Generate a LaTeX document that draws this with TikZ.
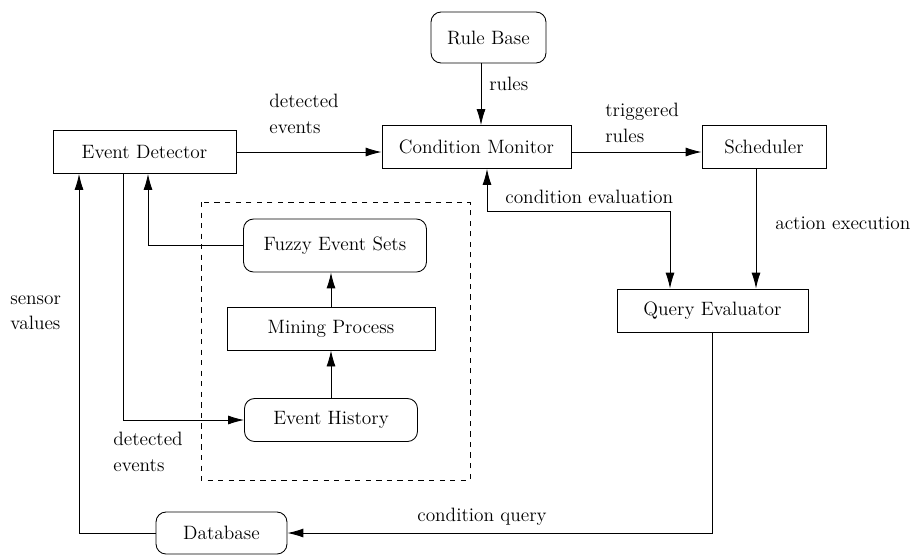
\documentclass[tikz,border=0pt]{standalone}
\usetikzlibrary{arrows.meta}
\tikzset{
    box/.style={draw, line width=0.5pt, inner sep=0pt, minimum height=0.86cm},
    roundbox/.style={box, rounded corners=0.2cm},
    lbl/.style={align=left, inner sep=0pt},
    flow/.style={line width=0.5pt, -{Latex[length=3.2mm,width=1.8mm]}},
    twoway/.style={line width=0.5pt, {Latex[length=3.2mm,width=1.8mm]}-{Latex[length=3.2mm,width=1.8mm]}},
}
\begin{document}
\begin{tikzpicture}[x=0.02cm, y=-0.02cm, font=\fontsize{11}{14.5}\selectfont]
        \useasboundingbox (0,0) rectangle (912,555);

        \node[roundbox, minimum width=2.3cm, minimum height=1.02cm] at (488.5,37.5) (rulebase) {Rule Base};
        \node[box, minimum width=3.66cm] at (144.5,152) (detector) {Event Detector};
        \node[box, minimum width=3.78cm] at (476.5,147) (monitor) {Condition Monitor};
        \node[box, minimum width=2.48cm] at (764,147) (scheduler) {Scheduler};
        \node[box, minimum width=3.82cm] at (712.5,310.5) (evaluator) {Query Evaluator};
        \node[roundbox, minimum width=3.66cm, minimum height=1.06cm] at (335,245.5) (fuzzy) {Fuzzy Event Sets};
        \node[box, minimum width=4.16cm] at (331,328.5) (mining) {Mining Process};
        \node[roundbox, minimum width=3.46cm] at (331,420) (history) {Event History};
        \node[roundbox, minimum width=2.62cm, minimum height=0.84cm] at (221.5,533) (database) {Database};

        \draw[dashed, line width=0.5pt] (201,202) rectangle (470,480);

        \draw[flow] ([xshift=-0.15cm]rulebase.south) -- ([xshift=-0.15cm]rulebase.south |- monitor.north);
        \draw[flow] (detector.east) -- (detector.east -| monitor.west);
        \draw[flow] (monitor.east |- detector.east) -- (scheduler.west |- detector.east);
        \coordinate (cebend) at (670,211);
        \draw[twoway] ([xshift=0.21cm]monitor.south) |- (cebend) -- (cebend |- evaluator.north);
        \draw[flow] ([xshift=-0.16cm]scheduler.south) -- ([xshift=-0.16cm]scheduler.south |- evaluator.north);
        \draw[flow] (evaluator.south) |- (database.east);
        \draw[flow] (database.west) -| ([xshift=-1.31cm]detector.south);
        \draw[flow] ([xshift=-0.43cm]detector.south) |- (history.west);
        \draw[flow] (fuzzy.west) -| ([xshift=0.07cm]detector.south);
        \draw[flow] (history.north) -- (mining.south);
        \draw[flow] (mining.north) -- (mining.north |- fuzzy.south);

        \node[lbl, anchor=west] at (269,114) (detlbl) {detected\\events};
        \node[lbl, anchor=west] at (489,84) (ruleslbl) {rules};
        \node[lbl, anchor=west] at (605,123) (triglbl) {triggered\\rules};
        \node[lbl, anchor=west] at (505,197) (condevlbl) {condition evaluation};
        \node[lbl, anchor=west] at (775,223) (actlbl) {action execution};
        \node[lbl, anchor=west] at (10,313) (sensorlbl) {sensor\\values};
        \node[lbl, anchor=west] at (113,452) (histlbl) {detected\\events};
        \node[lbl, anchor=west] at (417,517) (querylbl) {condition query};

    \end{tikzpicture}
\end{document}
